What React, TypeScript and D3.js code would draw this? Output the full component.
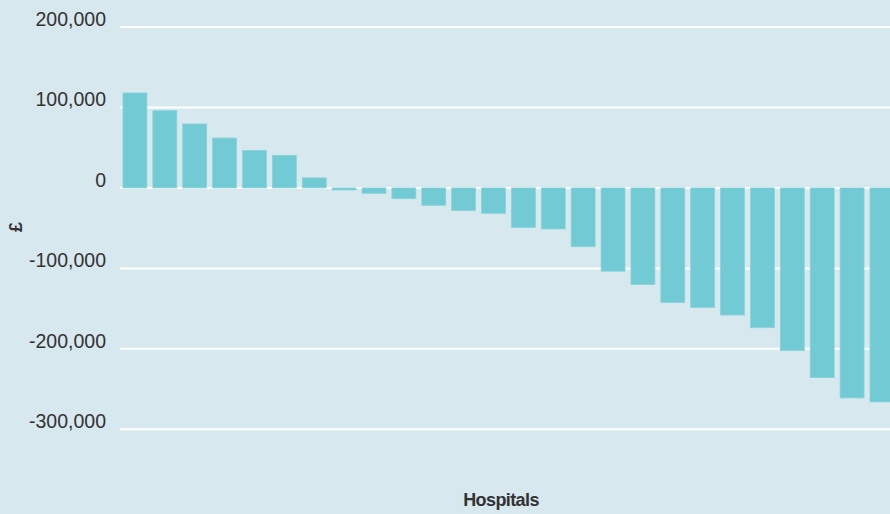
import React from "react";
import * as d3 from "d3";

const W = 890;
const H = 514;

// Net position per hospital, sorted high to low (£)
const hospitals = Array.from({ length: 26 }, (_, i) => `H${i + 1}`);
const netValues = [
  118000, 96000, 79500, 62000, 46500, 40500, 12500, -2500, -6700, -13300,
  -21600, -28200, -31500, -49300, -51000, -73000, -103500, -120000, -142300,
  -148500, -158000, -173700, -202200, -235700, -261000, -266000,
];
const yTicks = [200000, 100000, 0, -100000, -200000, -300000];

const BG = "#d7e8ee";
const BAR = "#72cbd4";
const TEXT = "#333333";

// Thousands separator with a plain hyphen for negatives
const locale = d3.formatLocale({
  decimal: ".",
  thousands: ",",
  grouping: [3],
  currency: ["£", ""],
  minus: "-",
});
const fmt = locale.format(",");

export default function App() {
  const x = d3
    .scaleBand<string>()
    .domain(hospitals)
    .range([120, 896.9])
    .paddingInner(0.2)
    .paddingOuter(0.1);

  const y = d3.scaleLinear().domain([-300000, 200000]).range([429.3, 27]);

  return (
    <svg
      width={W}
      height={H}
      style={{ position: "absolute", left: 0, top: 0, display: "block" }}
    >
      <defs>
        <clipPath id="plotClip">
          <rect x={0} y={0} width={W} height={H} />
        </clipPath>
      </defs>
      <rect x={0} y={0} width={W} height={H} fill={BG} />
      {yTicks.map((t) => (
        <g key={t}>
          <line x1={120} x2={W} y1={y(t)} y2={y(t)} stroke="#ffffff" strokeWidth={2} />
          <text
            x={106}
            y={y(t) - 1}
            textAnchor="end"
            fontFamily="'Liberation Sans', Arial, sans-serif"
            fontSize={19.5}
            fill={TEXT}
          >
            {fmt(t)}
          </text>
        </g>
      ))}
      <g clipPath="url(#plotClip)">
        {hospitals.map((h, i) => {
          const v = netValues[i];
          const y0 = y(0);
          const y1 = y(v);
          return (
            <rect
              key={h}
              x={x(h)}
              y={Math.min(y0, y1)}
              width={x.bandwidth()}
              height={Math.abs(y1 - y0)}
              fill={BAR}
              stroke="#88d3da"
              strokeWidth={0.8}
            />
          );
        })}
      </g>
      <text
        transform="translate(22,227) rotate(-90)"
        textAnchor="middle"
        fontFamily="'Liberation Sans', Arial, sans-serif"
        fontWeight="bold"
        fontSize={18}
        fill={TEXT}
      >
        £
      </text>
      <text
        x={501}
        y={506}
        textAnchor="middle"
        fontFamily="'Liberation Sans', Arial, sans-serif"
        fontWeight="bold"
        fontSize={18}
        letterSpacing={-0.6}
        fill={TEXT}
      >
        Hospitals
      </text>
    </svg>
  );
}
